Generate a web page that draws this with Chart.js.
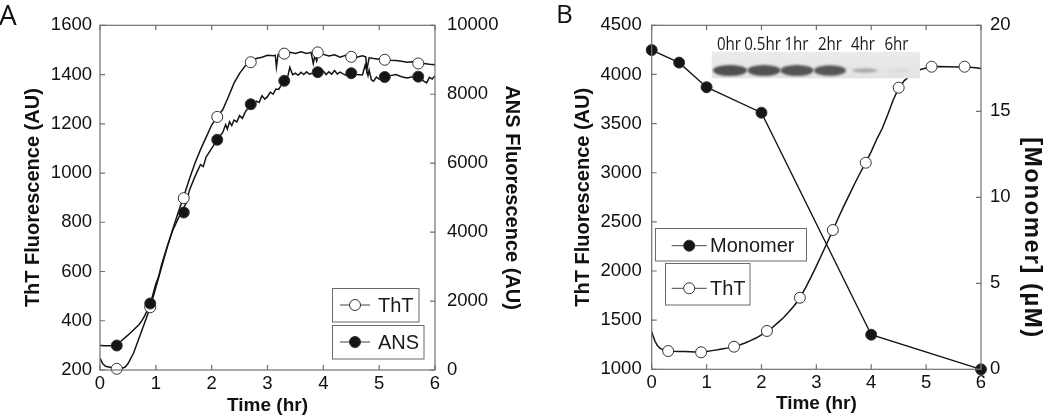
<!DOCTYPE html>
<html><head><meta charset="utf-8">
<script src="https://cdn.jsdelivr.net/npm/chart.js@4.4.1/dist/chart.umd.min.js"></script>
<style>
html,body{margin:0;padding:0;background:#fff;}
#wrap{position:relative;width:1050px;height:417px;overflow:hidden;background:#fff;}
#cA{position:absolute;left:0;top:0;}
#cB{position:absolute;left:525px;top:0;}
</style></head><body>
<div id="wrap"><canvas id="cA" width="525" height="417"></canvas><canvas id="cB" width="525" height="417"></canvas></div>
<script>
// ---------- Panel A data ----------
const aThtTraceTime = [0,0.05,0.1,0.2,0.3,0.4,0.45,0.5,0.6,0.7,0.8,0.9,1.0,1.1,1.2,1.3,1.4,1.5,1.6,1.7,1.8,1.9,2.0,2.1,2.2,2.3,2.4,2.5,2.6,2.7,2.8,2.9,3.0,3.1,3.14,3.16,3.19,3.3,3.4,3.5,3.6,3.7,3.78,3.82,3.85,3.88,3.92,4.0,4.1,4.2,4.3,4.4,4.5,4.6,4.7,4.76,4.78,4.82,4.9,5.0,5.1,5.2,5.3,5.4,5.5,5.6,5.7,5.8,5.9,6.0];
const aThtTrace = [248,225,215,210,206,207,212,225,268,330,392,455,535,615,695,770,840,905,975,1040,1095,1145,1195,1228,1258,1310,1365,1405,1435,1452,1465,1470,1478,1476,1478,1430,1482,1486,1490,1486,1492,1486,1490,1445,1478,1455,1488,1482,1475,1480,1470,1478,1474,1470,1476,1472,1420,1468,1465,1462,1460,1458,1457,1454,1450,1452,1447,1445,1442,1440];
const aAnsTraceTime = [0,0.1,0.2,0.3,0.4,0.5,0.6,0.7,0.75,0.8,0.9,1.0,1.05,1.1,1.2,1.3,1.4,1.5,1.55,1.6,1.7,1.8,1.85,1.9,2.0,2.1,2.15,2.2,2.25,2.28,2.32,2.36,2.4,2.45,2.5,2.55,2.6,2.7,2.75,2.8,2.85,2.9,2.95,3.0,3.05,3.1,3.15,3.2,3.25,3.3,3.35,3.4,3.45,3.5,3.55,3.6,3.65,3.7,3.75,3.8,3.9,3.95,4.0,4.05,4.1,4.15,4.2,4.25,4.3,4.4,4.5,4.6,4.7,4.75,4.8,4.82,4.86,4.9,4.95,5.0,5.1,5.2,5.3,5.4,5.5,5.6,5.7,5.75,5.8,5.85,5.9,5.95,6.0];
const aAnsTrace = [714,700,707,729,870,1010,1160,1320,1430,1570,1910,2500,2710,3040,3570,4040,4390,4710,4860,5210,5610,5960,5900,6180,6430,6680,6790,6900,7120,6990,7200,7090,7250,7200,7380,7300,7480,7700,7640,7800,7760,7960,7860,7930,8060,8000,8150,8140,8270,8390,8420,8780,8570,8610,8550,8640,8570,8650,8580,8610,8640,8580,8670,8570,8650,8580,8690,8590,8640,8550,8610,8570,8560,8850,8540,8700,8420,8380,8500,8440,8500,8540,8570,8510,8470,8510,8510,8440,8380,8330,8490,8440,8540];
const aMarkerTime = [0.3,0.9,1.5,2.1,2.7,3.3,3.9,4.5,5.1,5.7];
const aThtMarkers = [205,455,898,1228,1450,1485,1490,1472,1460,1445];
const aAnsMarkers = [710,1930,4570,6680,7710,8390,8640,8610,8500,8510];
const aXTicks = [0,1,2,3,4,5,6];

// ---------- Panel B data ----------
const bThtTraceTime = [0,0.03,0.06,0.1,0.15,0.2,0.3,0.4,0.5,0.6,0.7,0.8,0.9,1.0,1.1,1.2,1.3,1.4,1.5,1.6,1.7,1.8,1.9,2.0,2.1,2.15,2.2,2.3,2.4,2.5,2.6,2.7,2.8,2.9,3.0,3.1,3.2,3.3,3.4,3.5,3.6,3.7,3.8,3.9,4.0,4.1,4.2,4.3,4.4,4.5,4.6,4.7,4.8,4.9,5.0,5.1,5.2,5.4,5.6,5.8,5.9,6.0];
const bThtTrace = [1383,1330,1285,1245,1215,1200,1188,1183,1182,1180,1178,1176,1176,1182,1190,1198,1208,1218,1232,1248,1268,1292,1318,1350,1390,1395,1425,1475,1525,1585,1650,1728,1825,1935,2050,2170,2290,2415,2540,2660,2775,2890,3000,3105,3215,3340,3450,3590,3740,3860,3935,3985,4025,4050,4065,4078,4080,4078,4075,4072,4068,4060];
const bThtMarkerTime = [0.3,0.9,1.5,2.1,2.7,3.3,3.9,4.5,5.1,5.7];
const bThtMarkers = [1186,1173,1230,1390,1728,2417,3102,3865,4079,4079];
const bMonomerTime = [0,0.5,1,2,4,6];
const bMonomer = [18.56,17.83,16.4,14.92,2.01,0];
const gelLanes = ['0hr','0.5hr','1hr','2hr','4hr','6hr'];
const gelBandShade = ['#4f4f4f','#525252','#555','#575757','#aaa','#d9d9d9'];

const FONT = '"Liberation Sans", Arial, Helvetica, sans-serif';
const INK = '#151515';
const FRAME = '#707070';

function pts(xs, ys){ return xs.map((x,i)=>({x:x, y:ys[i]})); }

const frameTicks = {
  id:'frameTicks',
  afterDraw(chart){
    const {ctx, chartArea:a, scales} = chart;
    ctx.save();
    ctx.strokeStyle = FRAME; ctx.lineWidth = 1.2;
    ctx.strokeRect(a.left, a.top, a.right-a.left, a.bottom-a.top);
    const L = 5;
    ctx.beginPath();
    scales.x.ticks.forEach(t=>{ const p = scales.x.getPixelForValue(t.value);
      ctx.moveTo(p, a.bottom); ctx.lineTo(p, a.bottom-L);
      ctx.moveTo(p, a.top); ctx.lineTo(p, a.top+L); });
    scales.y.ticks.forEach(t=>{ const p = scales.y.getPixelForValue(t.value);
      ctx.moveTo(a.left, p); ctx.lineTo(a.left+L, p); });
    scales.y1.ticks.forEach(t=>{ const p = scales.y1.getPixelForValue(t.value);
      ctx.moveTo(a.right, p); ctx.lineTo(a.right-L, p); });
    ctx.stroke();
    ctx.restore();
  }
};

function drawMarker(ctx, x, y, filled){
  ctx.beginPath(); ctx.arc(x, y, 5.5, 0, Math.PI*2);
  ctx.fillStyle = filled ? INK : '#fff'; ctx.fill();
  ctx.lineWidth = 1; ctx.strokeStyle = '#333'; ctx.stroke();
}
function legendEntry(ctx, box, lineY, x0, x1, filled, label, textX){
  ctx.strokeStyle = '#6a6a6a'; ctx.lineWidth = 1;
  ctx.strokeRect(box[0], box[1], box[2], box[3]);
  ctx.beginPath(); ctx.moveTo(x0, lineY); ctx.lineTo(x1, lineY);
  ctx.strokeStyle = '#444'; ctx.stroke();
  drawMarker(ctx, (x0+x1)/2, lineY, filled);
  ctx.fillStyle = '#1a1a1a'; ctx.font = '20px ' + FONT;
  ctx.textBaseline = 'middle'; ctx.textAlign = 'left';
  ctx.fillText(label, textX, lineY + 1);
}

const decorA = {
  id:'decorA',
  afterDraw(chart){
    const ctx = chart.ctx; ctx.save();
    legendEntry(ctx, [332.5,288.5,86.5,33.5], 305, 340, 370, false, 'ThT', 378);
    legendEntry(ctx, [332.5,325.5,91.5,33.5], 342, 340, 370, true, 'ANS', 378);
    ctx.fillStyle = '#111'; ctx.font = '28px "Open Sans", sans-serif';
    ctx.textBaseline = 'alphabetic'; ctx.textAlign = 'left';
    ctx.fillText('A', -1, 25);
    ctx.restore();
  }
};

const decorB = {
  id:'decorB',
  afterDraw(chart){
    const ctx = chart.ctx; ctx.save();
    legendEntry(ctx, [130.5,228.5,151,32.5], 245.7, 146.7, 181.7, true, 'Monomer', 185);
    legendEntry(ctx, [140.5,263.5,84.5,41.5], 288.3, 146.7, 181.7, false, 'ThT', 185);
    // gel inset
    const gx = 186.7, gy = 51.7, gw = 208.3, gh = 26.6;
    const g = ctx.createLinearGradient(0, gy, 0, gy+gh);
    g.addColorStop(0, '#ebebeb'); g.addColorStop(1, '#e3e3e3');
    ctx.fillStyle = g; ctx.fillRect(gx, gy, gw, gh);
    const bandX = [205,239,272,305,340,373];
    const bandW = [17,16.5,16.5,16,12.5,12];
    const bandH = [5.5,5.5,5.5,5.3,2.2,1.4];
    ctx.filter = 'blur(0.8px)';
    bandX.forEach((bx,i)=>{
      ctx.beginPath(); ctx.ellipse(bx, 70.5, bandW[i], bandH[i], 0, 0, Math.PI*2);
      ctx.fillStyle = gelBandShade[i]; ctx.fill();
    });
    ctx.filter = 'none';
    const labX = [204,237.5,271.5,305,338,371.5];
    ctx.fillStyle = '#1a1a1a'; ctx.font = '18px "Open Sans", sans-serif';
    ctx.textAlign = 'center'; ctx.textBaseline = 'alphabetic';
    gelLanes.forEach((l,i)=>{
      ctx.save(); ctx.translate(labX[i], 50); ctx.scale(0.84, 1);
      ctx.fillText(l, 0, 0); ctx.restore();
    });
    // right axis title
    ctx.save();
    ctx.translate(506.7, 238); ctx.rotate(Math.PI/2);
    ctx.font = 'bold 24px ' + FONT; ctx.fillStyle = '#111';
    ctx.letterSpacing = '1.5px';
    ctx.textAlign = 'center'; ctx.textBaseline = 'middle';
    ctx.fillText('[Monomer] (\u00b5M)', 0, 0);
    ctx.letterSpacing = '0px';
    ctx.restore();
    ctx.fillStyle = '#111'; ctx.font = '26px "Open Sans", sans-serif';
    ctx.textAlign = 'left'; ctx.textBaseline = 'alphabetic';
    ctx.fillText('B', 31, 23);
    ctx.restore();
  }
};

function baseScale(opts){
  return Object.assign({
    type:'linear',
    grid:{display:false, drawTicks:false, tickLength:0},
    border:{display:false},
  }, opts);
}
const tickFont = {family: FONT, size: 18.5};
const titleFont = {family: FONT, size: 20, weight: 'bold'};

// ---------- Chart A ----------
new Chart(document.getElementById('cA'), {
  type:'line',
  data:{ datasets:[
    {label:'ANS markers', data: pts(aMarkerTime, aAnsMarkers), yAxisID:'y1', showLine:false,
     pointRadius:5.5, pointBackgroundColor:INK, pointBorderColor:'#333', pointBorderWidth:1, clip:false},
    {label:'ThT markers', data: pts(aMarkerTime, aThtMarkers), yAxisID:'y', showLine:false,
     pointRadius:5.5, pointBackgroundColor:'#fff', pointBorderColor:'#333', pointBorderWidth:1, clip:false},
    {label:'ANS', data: pts(aAnsTraceTime, aAnsTrace), yAxisID:'y1', borderColor:INK, borderWidth:1.5, pointRadius:0, tension:0},
    {label:'ThT', data: pts(aThtTraceTime, aThtTrace), yAxisID:'y', borderColor:INK, borderWidth:1.5, pointRadius:0, tension:0},
  ]},
  options:{
    responsive:false, animation:false, devicePixelRatio:1,
    layout:{padding:{top:25.3, left:0, right:0, bottom:0}},
    plugins:{legend:{display:false}, tooltip:{enabled:false}},
    scales:{
      x: baseScale({position:'bottom', min:0, max:6,
        afterBuildTicks: s => { s.ticks = aXTicks.map(v=>({value:v})); },
        ticks:{font:tickFont, color:'#111', padding:3, callback:v=>String(v), maxRotation:0},
        title:{display:true, text:'Time (hr)', font:{family:FONT, size:19, weight:'bold'}, color:'#111', padding:{top:0,bottom:0}},
        afterFit: s => { s.height = 47; }}),
      y: baseScale({position:'left', min:200, max:1600,
        ticks:{font:tickFont, color:'#111', padding:8, stepSize:200, callback:v=>String(v)},
        title:{display:true, text:'ThT Fluorescence (AU)', font:titleFont, color:'#111', padding:{top:21,bottom:0}},
        afterFit: s => { s.width = 100; }}),
      y1: baseScale({position:'right', min:0, max:10000,
        ticks:{font:tickFont, color:'#111', padding:12, stepSize:2000, callback:v=>String(v)},
        title:{display:true, text:'ANS Fluorescence (AU)', font:titleFont, color:'#111', padding:{top:1,bottom:0}},
        afterFit: s => { s.width = 90; }}),
    }
  },
  plugins:[frameTicks, decorA]
});

// ---------- Chart B ----------
new Chart(document.getElementById('cB'), {
  type:'line',
  data:{ datasets:[
    {label:'Monomer', data: pts(bMonomerTime, bMonomer), yAxisID:'y1', borderColor:INK, borderWidth:1.4,
     pointRadius:5.5, pointBackgroundColor:INK, pointBorderColor:'#333', pointBorderWidth:1, tension:0, clip:false},
    {label:'ThT markers', data: pts(bThtMarkerTime, bThtMarkers), yAxisID:'y', showLine:false,
     pointRadius:5.5, pointBackgroundColor:'#fff', pointBorderColor:'#333', pointBorderWidth:1, clip:false},
    {label:'ThT', data: pts(bThtTraceTime, bThtTrace), yAxisID:'y', borderColor:INK, borderWidth:1.5, pointRadius:0, tension:0},
  ]},
  options:{
    responsive:false, animation:false, devicePixelRatio:1,
    layout:{padding:{top:25.3, left:0, right:0, bottom:0}},
    plugins:{legend:{display:false}, tooltip:{enabled:false}},
    scales:{
      x: baseScale({position:'bottom', min:0, max:6,
        afterBuildTicks: s => { s.ticks = aXTicks.map(v=>({value:v})); },
        ticks:{font:tickFont, color:'#111', padding:3, callback:v=>String(v), maxRotation:0},
        title:{display:true, text:'Time (hr)', font:{family:FONT, size:19, weight:'bold'}, color:'#111', padding:{top:0,bottom:2}},
        afterFit: s => { s.height = 47.7; }}),
      y: baseScale({position:'left', min:1000, max:4500,
        ticks:{font:tickFont, color:'#111', padding:10, stepSize:500, callback:v=>String(v)},
        title:{display:true, text:'ThT Fluorescence (AU)', font:titleFont, color:'#111', padding:{top:46,bottom:0}},
        afterFit: s => { s.width = 126.7; }}),
      y1: baseScale({position:'right', min:0, max:20,
        ticks:{font:tickFont, color:'#111', padding:9, stepSize:5, callback:v=>String(v)},
        title:{display:false},
        afterFit: s => { s.width = 69; }}),
    }
  },
  plugins:[frameTicks, decorB]
});
</script>
</body></html>
